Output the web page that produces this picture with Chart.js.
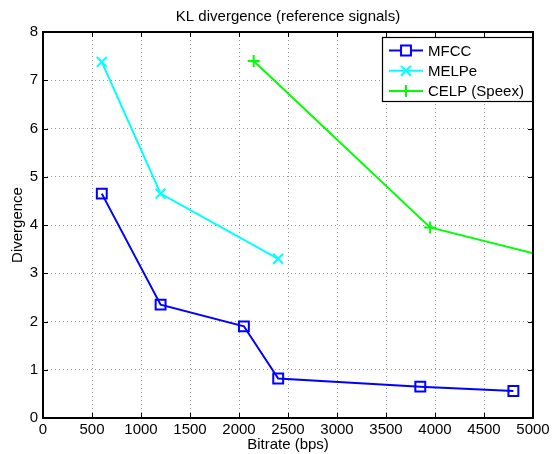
<!DOCTYPE html>
<html>
<head>
<meta charset="utf-8">
<script src="https://cdn.jsdelivr.net/npm/chart.js@4.4.1/dist/chart.umd.min.js"></script>
<style>
  html, body { margin: 0; padding: 0; background: #fff; }
  #wrap { width: 553px; height: 454px; }
</style>
</head>
<body>
<div id="wrap"><canvas id="chart" width="553" height="454"></canvas></div>
<script>
// datos
const mfccBitrate = [600, 1200, 2050, 2400, 3850, 4800];
const mfccDiv = [4.65, 2.35, 1.9, 0.82, 0.65, 0.56];

const melpeBitrate = [600, 1200, 2400];
const melpeDiv = [7.38, 4.65, 3.3];

// el ultimo punto queda fuera del eje (recortado)
const celpBitrate = [2150, 3950, 5950];
const celpDiv = [7.4, 3.95, 2.93];

const xTicks = [0, 500, 1000, 1500, 2000, 2500, 3000, 3500, 4000, 4500, 5000];
const yTicks = [0, 1, 2, 3, 4, 5, 6, 7, 8];

const FONT = "'Liberation Sans', Arial, Helvetica, sans-serif";
const FS = 15;
Chart.defaults.font.family = FONT;
Chart.defaults.color = "#000";

const toPoints = (xs, ys) => xs.map((x, i) => ({ x: x, y: ys[i] }));

// marco, marcas interiores y leyenda estilo matlab
const matlabFrame = {
    id: "matlabFrame",
    afterDatasetsDraw(chart) {
        const { ctx, chartArea: a, scales } = chart;
        ctx.save();
        ctx.strokeStyle = "#000";
        ctx.lineWidth = 1;
        ctx.beginPath();
        xTicks.forEach((v) => {
            const px = Math.round(scales.x.getPixelForValue(v)) + 0.5;
            ctx.moveTo(px, a.bottom);
            ctx.lineTo(px, a.bottom - 5);
            ctx.moveTo(px, a.top);
            ctx.lineTo(px, a.top + 5);
        });
        yTicks.forEach((v) => {
            const py = Math.round(scales.y.getPixelForValue(v)) + 0.5;
            ctx.moveTo(a.left, py);
            ctx.lineTo(a.left + 5, py);
            ctx.moveTo(a.right, py);
            ctx.lineTo(a.right - 5, py);
        });
        ctx.stroke();
        ctx.lineWidth = 2;
        ctx.strokeRect(a.left, a.top, a.right - a.left, a.bottom - a.top);

        // leyenda
        const bx = 382, by = 37, bw = 150, bh = 64;
        ctx.fillStyle = "#fff";
        ctx.fillRect(bx, by, bw, bh);
        ctx.lineWidth = 1.2;
        ctx.strokeStyle = "#000";
        ctx.strokeRect(bx + 0.5, by + 0.5, bw, bh);
        chart.data.datasets.forEach((ds, i) => {
            const ry = by + 13.5 + i * 20.3;
            ctx.strokeStyle = ds.borderColor;
            ctx.lineWidth = 2;
            ctx.beginPath();
            ctx.moveTo(389, ry);
            ctx.lineTo(423, ry);
            ctx.stroke();
            Chart.helpers.drawPoint(ctx, {
                pointStyle: ds.pointStyle,
                radius: ds.pointRadius,
                borderWidth: 2,
            }, 406, ry);
            ctx.fillStyle = "#000";
            ctx.font = FS + "px " + FONT;
            ctx.textBaseline = "middle";
            ctx.textAlign = "left";
            ctx.fillText(ds.label, 428, ry + 1);
        });
        ctx.restore();
    },
};

const ctx = document.getElementById("chart").getContext("2d");

const serie = (label, xs, ys, color, style, r) => ({
    label: label,
    data: toPoints(xs, ys),
    borderColor: color,
    backgroundColor: "rgba(0,0,0,0)",
    borderWidth: 2,
    pointStyle: style,
    pointRadius: r,
    pointBorderWidth: 2,
    pointBorderColor: color,
    pointBackgroundColor: "rgba(0,0,0,0)",
    tension: 0,
    clip: 0,
});

new Chart(ctx, {
    type: "line",
    data: {
        datasets: [
            serie("MFCC", mfccBitrate, mfccDiv, "#0000ff", "rect", 7),
            serie("MELPe", melpeBitrate, melpeDiv, "#00ffff", "crossRot", 7),
            serie("CELP (Speex)", celpBitrate, celpDiv, "#00ff00", "cross", 6),
        ],
    },
    options: {
        responsive: false,
        animation: false,
        layout: { padding: { top: 0, right: 20, left: 0, bottom: 0 } },
        plugins: {
            legend: { display: false },
            tooltip: { enabled: false },
            title: {
                display: true,
                fullSize: false,
                text: "KL divergence (reference signals)",
                font: { size: FS, weight: "normal" },
                color: "#000",
                padding: { top: 8, bottom: 6 },
            },
        },
        scales: {
            x: {
                type: "linear",
                min: 0,
                max: 5000,
                afterBuildTicks: (s) => { s.ticks = xTicks.map((v) => ({ value: v })); },
                afterFit: (s) => { s.height = 36; },
                ticks: { font: { size: FS }, padding: 3, maxRotation: 0, autoSkip: false, callback: (v) => String(v) },
                grid: { color: "#999", drawTicks: false, tickLength: 0 },
                border: { display: false, dash: [1, 3] },
                title: { display: true, text: "Bitrate (bps)", font: { size: FS }, padding: { top: 0, bottom: 0 } },
            },
            y: {
                type: "linear",
                min: 0,
                max: 8,
                afterBuildTicks: (s) => { s.ticks = yTicks.map((v) => ({ value: v })); },
                afterFit: (s) => { s.width = 43; },
                ticks: { font: { size: FS }, padding: 5, callback: (v) => String(v) },
                grid: { color: "#999", drawTicks: false, tickLength: 0 },
                border: { display: false, dash: [1, 3] },
                title: { display: true, text: "Divergence", font: { size: FS }, padding: { top: 9, bottom: 0 } },
            },
        },
    },
    plugins: [matlabFrame],
});
</script>
</body>
</html>
